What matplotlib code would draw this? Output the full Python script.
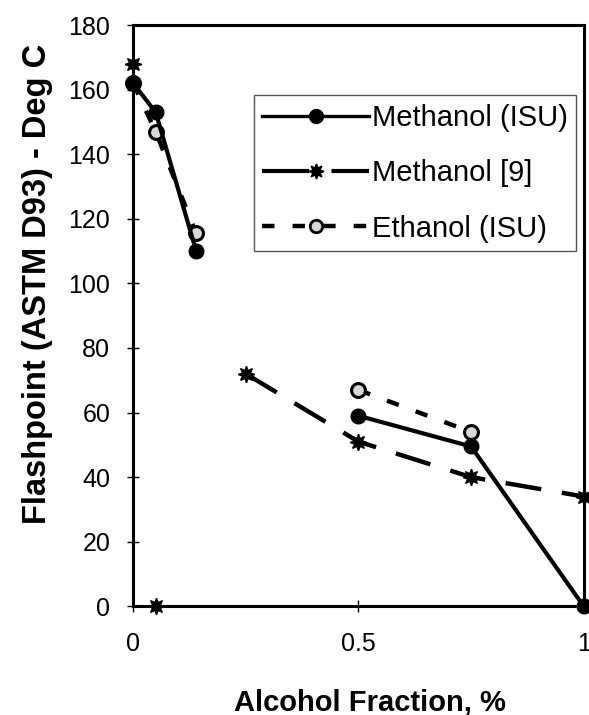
import numpy as np
import matplotlib

matplotlib.use("Agg")
import matplotlib.pyplot as plt

plt.rcParams["font.family"] = ["Liberation Sans", "DejaVu Sans"]
plt.rcParams["lines.scale_dashes"] = False

# alcohol fraction and flashpoint (deg C)
meth_isu_x = [0.0, 0.05, 0.14, np.nan, 0.5, 0.75, 1.0]
meth_isu_y = [162, 153, 110, np.nan, 59, 49.5, 0]

meth9_x = [0.0, 0.05, 0.25, 0.5, 0.75, 1.0]
meth9_y = [168, 0, 72, 51, 40, 34]

eth_isu_x = [0.0, 0.05, 0.14, np.nan, 0.5, 0.75]
eth_isu_y = [162, 147, 115.5, np.nan, 67, 54]

labels = ["Methanol (ISU)", "Methanol [9]", "Ethanol (ISU)"]
x_ticks = [0, 0.5, 1]
x_tick_labels = ["0", "0.5", "1"]
y_ticks = list(range(0, 181, 20))

fig = plt.figure(figsize=(5.89, 7.15), dpi=100)
ax = fig.add_axes([0.226, 0.152, 0.765, 0.813])

star = (8, 1, 0)
LONG = (26, 15)
SHORT = (9, 13)

# Methanol [9]: first two points stand alone, line starts at 0.25
ax.plot(meth9_x[2:], meth9_y[2:], color="black", lw=3.2, dashes=LONG,
        marker=star, ms=12, mfc="black", mec="black", clip_on=False, zorder=3)
ax.plot(meth9_x[:2], meth9_y[:2], ls="none", marker=star, ms=12,
        mfc="black", mec="black", clip_on=False, zorder=3)

ax.plot(eth_isu_x, eth_isu_y, color="black", lw=3.2, dashes=SHORT,
        marker="o", ms=10, mfc="#d8d8d8", mec="black", mew=2.2,
        clip_on=False, zorder=4)

ax.plot(meth_isu_x, meth_isu_y, color="black", lw=3,
        marker="o", ms=10.5, mfc="black", mec="black", clip_on=False, zorder=5)

# legend proxies
h1, = ax.plot([], [], color="black", lw=2.4, marker="o", ms=10, mfc="black")
h2, = ax.plot([], [], color="black", lw=3, dashes=(34, 16), marker=star,
              ms=11, mfc="black", mec="black")
h3, = ax.plot([], [], color="black", lw=3.2, dashes=SHORT, marker="o", ms=9,
              mfc="#d8d8d8", mec="black", mew=2)
leg = ax.legend([h1, h2, h3], labels,
                loc="upper right", bbox_to_anchor=(0.984, 0.8795),
                fontsize=21, frameon=True, fancybox=False, framealpha=1,
                edgecolor="#555555", handlelength=3.65, labelspacing=0.94,
                borderpad=0.3, handletextpad=0.1, borderaxespad=0)
leg.get_frame().set_linewidth(1.0)

ax.set_xlim(0, 1)
ax.set_ylim(0, 180)
ax.set_xticks(x_ticks)
ax.set_xticklabels(x_tick_labels)
ax.set_yticks(y_ticks)
ax.tick_params(axis="both", direction="inout", length=9, width=1,
               labelsize=18)
ax.tick_params(axis="y", pad=12)
ax.tick_params(axis="x", pad=14)
for s in ax.spines.values():
    s.set_linewidth(2.2)

ax.set_xlabel("Alcohol Fraction, %", fontsize=21, fontweight="bold")
ax.set_ylabel("Flashpoint (ASTM D93) - Deg C", fontsize=23.5, fontweight="bold")
ax.xaxis.set_label_coords(0.525, -0.141)
ax.yaxis.set_label_coords(-0.178, 0.554)

fig.savefig("out.png", dpi=100)
